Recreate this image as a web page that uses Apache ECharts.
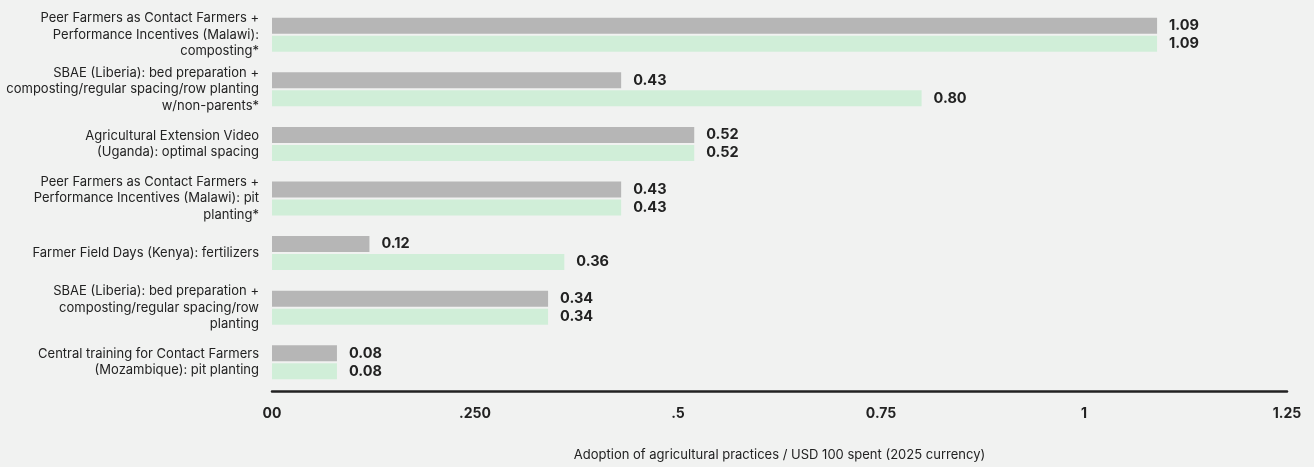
<!DOCTYPE html>
<html>
<head>
<meta charset="utf-8">
<script src="https://cdn.jsdelivr.net/npm/echarts@6/dist/echarts.min.js"></script>
<style>
html,body{margin:0;padding:0;background:#f1f2f1;}
#c{width:1314px;height:467px;}
</style>
</head>
<body>
<div id="c"></div>
<script>
const categories = [
  "Peer Farmers as Contact Farmers +\nPerformance Incentives (Malawi):\ncomposting*",
  "SBAE (Liberia): bed preparation +\ncomposting/regular spacing/row planting\nw/non-parents*",
  "Agricultural Extension Video\n(Uganda): optimal spacing",
  "Peer Farmers as Contact Farmers +\nPerformance Incentives (Malawi): pit\nplanting*",
  "Farmer Field Days (Kenya): fertilizers",
  "SBAE (Liberia): bed preparation +\ncomposting/regular spacing/row\nplanting",
  "Central training for Contact Farmers\n(Mozambique): pit planting"
];
const seriesGray = [1.09, 0.43, 0.52, 0.43, 0.12, 0.34, 0.08];
const seriesGreen = [1.09, 0.80, 0.52, 0.43, 0.36, 0.34, 0.08];
const tickValues = [0, 0.25, 0.5, 0.75, 1, 1.25];
const tickLabels = ["00", ".250", ".5", "0.75", "1", "1.25"];
const axisTitle = "Adoption of agricultural practices / USD 100 spent (2025 currency)";

const FONT = "Inter";
const chart = echarts.init(document.getElementById('c'));
const labelCfg = {
  show: true, position: 'right', distance: 12,
  fontFamily: FONT, fontSize: 14.5, fontWeight: 'bold', color: '#222',
  formatter: p => p.value.toFixed(2)
};
chart.setOption({
  backgroundColor: '#f1f2f1',
  animation: false,
  grid: {left: 272, right: 27, top: 7.5, bottom: 72, containLabel: false},
  xAxis: {
    type: 'value', min: 0, max: 1.25, interval: 0.25, offset: 1.5,
    axisLine: {show: true, lineStyle: {color: '#222', width: 2.5}},
    axisTick: {show: false},
    splitLine: {show: false},
    axisLabel: {
      margin: 16, fontFamily: FONT, fontSize: 14, fontWeight: 'bold', color: '#222',
      formatter: v => { const i = tickValues.findIndex(t => Math.abs(t - v) < 1e-9); return i >= 0 ? tickLabels[i] : ''; }
    },
    name: axisTitle, nameLocation: 'middle', nameGap: 58,
    nameTextStyle: {fontFamily: FONT, fontSize: 13, color: '#222'}
  },
  yAxis: {
    type: 'category', data: categories, inverse: true,
    axisLine: {show: false}, axisTick: {show: false},
    axisLabel: {margin: 13, fontFamily: FONT, fontSize: 13, color: '#222', lineHeight: 16.5, align: 'right'}
  },
  series: [
    {type: 'bar', data: seriesGray, barWidth: 16, barGap: '12.5%', itemStyle: {color: '#b6b6b6'}, label: labelCfg},
    {type: 'bar', data: seriesGreen, barWidth: 16, barGap: '12.5%', itemStyle: {color: '#d0eed8'}, label: labelCfg}
  ]
});
</script>
</body>
</html>
